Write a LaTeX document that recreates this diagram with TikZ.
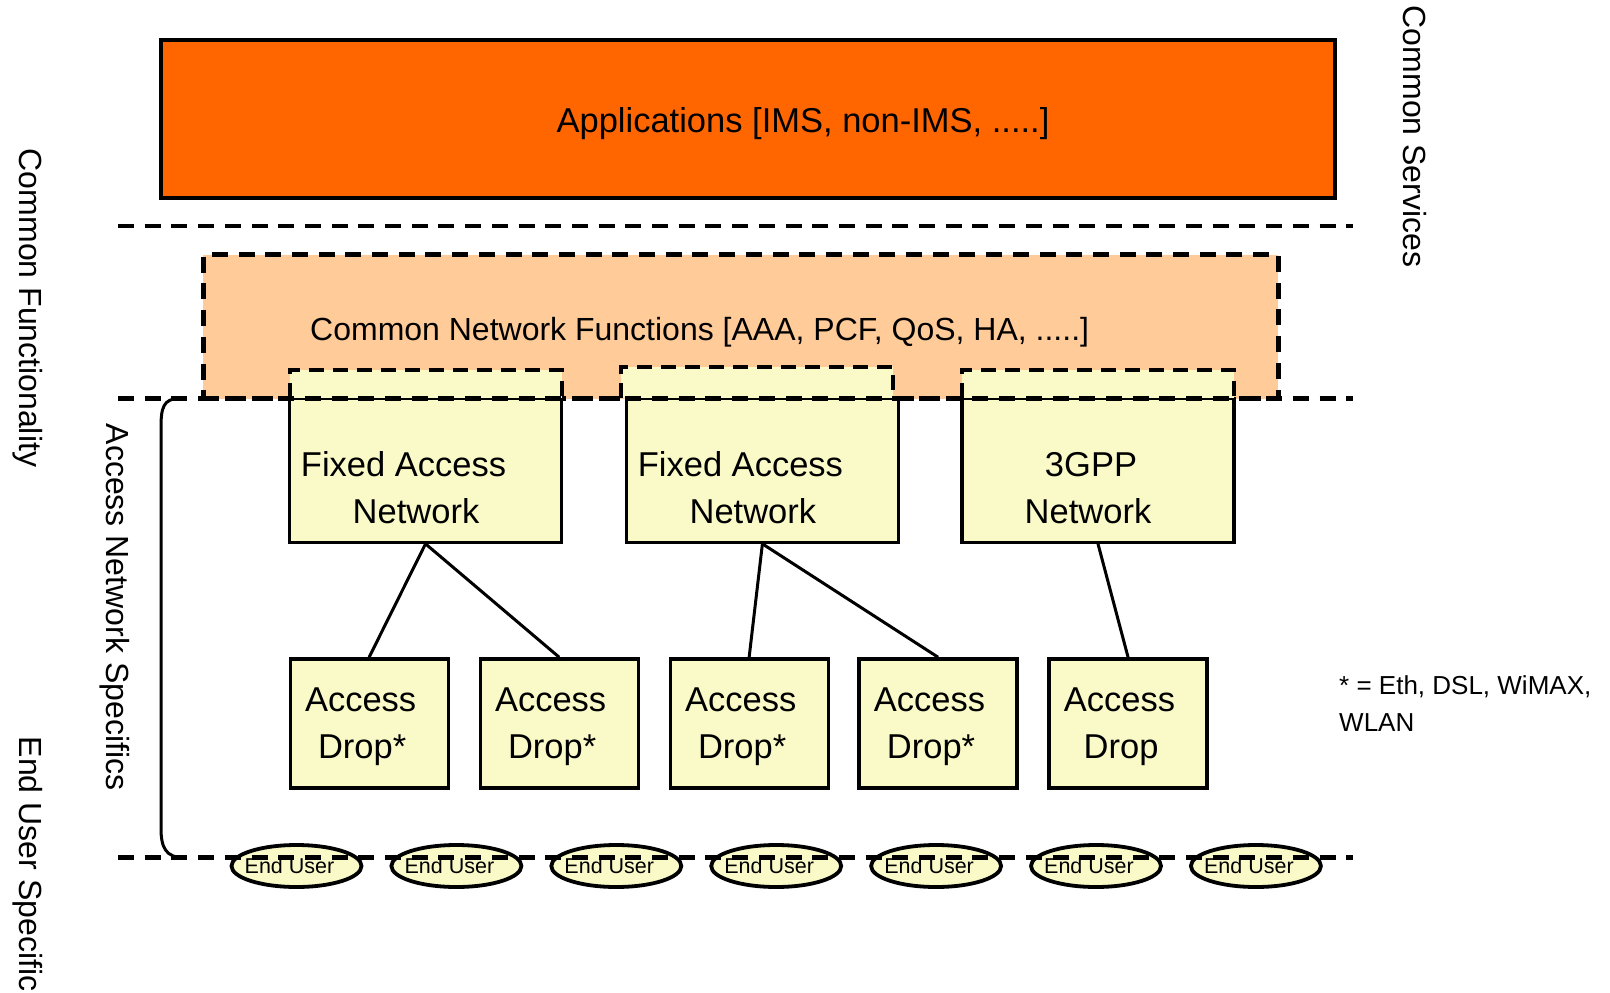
\documentclass[tikz,border=0pt]{standalone}
\usepackage{fontspec}
\setmainfont{Liberation Sans}
\usetikzlibrary{shapes.geometric}
\definecolor{apporange}{RGB}{255,102,0}
\definecolor{peach}{RGB}{255,204,153}
\definecolor{lyellow}{RGB}{250,250,200}
\begin{document}
\begin{tikzpicture}[x=1pt,y=-1pt,
  sepline/.style={line width=4.5pt, dash pattern=on 16pt off 10.7pt},
  ybox/.style={draw, line width=3.3pt, fill=lyellow, rectangle, inner sep=0pt},
  fanbox/.style={ybox, minimum width=272pt, minimum height=144pt},
  dropbox/.style={ybox, minimum width=158pt, minimum height=129pt},
  extbox/.style={fill=lyellow, draw, line width=4pt, dash pattern=on 15pt off 9pt},
  btext/.style={font=\fontsize{34.5}{40}\selectfont, anchor=base, inner sep=0pt},
  eu/.style={ellipse, draw, line width=3.8pt, fill=lyellow, minimum width=130pt, minimum height=42pt, inner xsep=-12pt, inner ysep=0pt, font=\fontsize{21.5}{24}\selectfont},
  side/.style={font=\fontsize{32}{38}\selectfont, rotate=-90, inner sep=0pt},
  conn/.style={line width=3pt}
]
\useasboundingbox (0,0) rectangle (1610,993);
\fill[white] (0,0) rectangle (1610,993);

% Applications
\node[draw, line width=3.3pt, fill=apporange, minimum width=1174pt, minimum height=158pt, inner sep=0pt] (apps) at (748,119) {};
\node[btext] (appstext) at (803,132.5) {Applications [IMS, non-IMS, .....]};

% separator lines
\coordinate (s1a) at (118,226);  \coordinate (s1b) at (1353,226);
\coordinate (s2a) at (118,398.4); \coordinate (s2b) at (1353,398.4);
\coordinate (s3a) at (118,857.6); \coordinate (s3b) at (1353,857.6);
\draw[sepline] (s1a) -- (s1b);

% Common network functions
\node[fill=peach, draw, line width=4.5pt, dash pattern=on 16pt off 10.7pt, minimum width=1075pt, minimum height=144pt, inner sep=0pt] (cnf) at (740.8,326.5) {};
\node[font=\fontsize{32}{38}\selectfont, anchor=base west, inner sep=0pt] (cnftext) at (310,340) {Common Network Functions [AAA, PCF, QoS, HA, .....]};

% access networks
\node[fanbox] (fan1) at (425.5,470.2) {};
\node[fanbox] (fan2) at (762.4,470.2) {};
\node[fanbox] (gpp) at (1098,470.2) {};
\draw[extbox] (289.5,398.4) -- (289.5,369.6) -- (561.6,369.6) -- (561.6,398.4);
\draw[extbox] (621,398.4) -- (621,366.6) -- (893,366.6) -- (893,398.4);
\draw[extbox] (962,398.4) -- (962,369.6) -- (1234,369.6) -- (1234,398.4);
\draw[sepline] (s2a) -- (s2b);

\node[btext] (fan1a) at ([xshift=-22pt,yshift=-6.3pt]fan1.center) {Fixed Access};
\node[btext] (fan1b) at ([xshift=-9.5pt,yshift=-53.5pt]fan1.center) {Network};
\node[btext] (fan2a) at ([xshift=-22pt,yshift=-6.3pt]fan2.center) {Fixed Access};
\node[btext] (fan2b) at ([xshift=-9.5pt,yshift=-53.5pt]fan2.center) {Network};
\node[btext] (gppa) at ([xshift=-7pt,yshift=-6.3pt]gpp.center) {3GPP};
\node[btext] (gppb) at ([xshift=-10pt,yshift=-53.5pt]gpp.center) {Network};

% access drops
\foreach \n/\x/\t in {1/288.5/Drop*,2/478.5/Drop*,3/668.5/Drop*,4/857.4/Drop*,5/1047.4/Drop}{
  \node[dropbox, anchor=north west] (ad\n) at (\x,657.2) {};
  \node[btext] (ad\n a) at ([xshift=-8.5pt]ad\n.north |- 0,711) {Access};
  \node[btext] (ad\n b) at ([xshift=-7pt]ad\n.north |- 0,758.7) {\t};
}

\draw[conn] (fan1.south) -- (ad1.north);
\draw[conn] (fan1.south) -- (ad2.north);
\draw[conn] (fan2.south) -- (ad3.north);
\draw[conn] (fan2.south) -- (ad4.north);
\draw[conn] (gpp.south) -- (ad5.north);

% end users
\foreach \i in {0,...,6}{
  \node[eu] (eu\i) at (296.5+159.9*\i,866) {End User\hspace*{14pt}};
}
\draw[sepline] (s3a) -- (s3b);

% bracket
\coordinate (bt) at (180,398.4);
\coordinate (bb) at (184,857.6);
\draw[line width=3pt] (bt) .. controls (163,398.4) and (161,408) .. (161,428) -- (161,828) .. controls (161,848) and (166,857.6) .. (bb);

% side labels
\node[side] (cf) at (27.7,308) {Common Functionality};
\node[side] (ans) at (115,607) {Access Network Specifics};
\node[side] (eus) at (27.7,864) {End User Specific};
\node[side] (cs) at (1415,136.5) {Common Services};

% footnote
\node[font=\fontsize{26}{37}\selectfont, anchor=base west, inner sep=0pt] (fn1) at (1339,694.5) {* = Eth, DSL, WiMAX,};
\node[font=\fontsize{26}{37}\selectfont, anchor=base west, inner sep=0pt] (fn2) at (1339,731.5) {WLAN};
\end{tikzpicture}
\end{document}
